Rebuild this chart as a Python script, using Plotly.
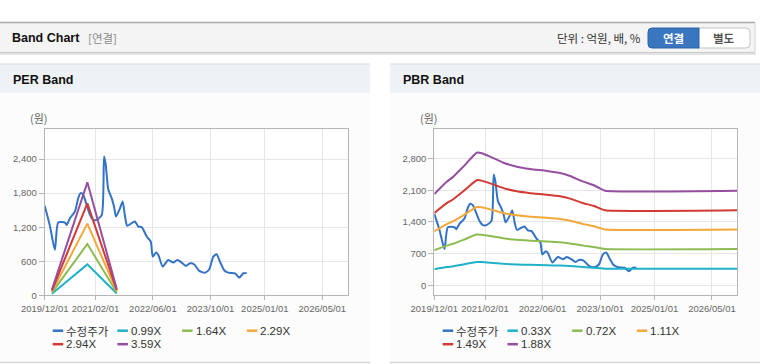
import plotly.graph_objects as go

W, H = 760, 364

# ---------------- data ----------------
price_dates = ["2019-12-01","2020-01-14","2020-02-25","2020-03-24","2020-05-20","2020-06-03","2020-07-01",
               "2020-08-12","2020-09-09","2020-09-29","2020-10-21","2020-11-19","2020-12-17","2021-01-14",
               "2021-02-12","2021-03-27","2021-04-15","2021-04-29","2021-05-21","2021-06-18","2021-07-08",
               "2021-07-25","2021-08-28","2021-09-19","2021-10-09","2021-10-28","2021-12-04","2022-01-01",
               "2022-01-29","2022-02-27","2022-04-10","2022-05-14","2022-05-31","2022-06-28","2022-07-17",
               "2022-08-23","2022-10-09","2022-11-20","2022-12-24","2023-01-30","2023-03-07","2023-04-10",
               "2023-05-14","2023-06-28","2023-08-15","2023-09-20","2023-10-24","2023-11-21","2023-12-19",
               "2024-01-22","2024-02-27","2024-04-24","2024-05-30","2024-07-03","2024-08-01"]
price_vals = [1576,1223,800,1282,1282,1240,1359,1476,1712,1800,1770,1594,1417,1329,1329,1417,2446,2300,1858,
              1712,1564,1387,1535,1652,1387,1223,1270,1300,1211,1200,1035,946,681,752,711,505,623,576,623,576,
              517,564,547,429,399,459,681,723,593,446,399,388,311,388,388]

per_dates = ["2020-01-31", "2020-11-25", "2021-07-31"]
per_names = ["0.99X", "1.64X", "2.29X", "2.94X", "3.59X"]
per_099 = [28, 545, 31]
per_164 = [46, 904, 51]
per_229 = [64, 1262, 71]
per_294 = [82, 1620, 91]
per_359 = [100, 1990, 111]

pbr_dates = ["2019-12-01","2020-03-15","2020-05-09","2020-08-02","2020-11-23","2021-01-04","2021-03-16",
             "2021-07-06","2021-10-27","2022-02-17","2022-07-07","2022-10-28","2023-01-20","2023-05-12",
             "2023-08-04","2023-09-29","2023-11-11","2026-12-01"]
pbr_names = ["0.33X", "0.72X", "1.11X", "1.49X", "1.88X"]
pbr_033 = [354,402,421,460,514,512,499,475,460,451,443,435,424,402,389,376,367,367]
pbr_072 = [772,876,919,1003,1121,1117,1088,1037,1003,984,967,950,924,876,848,820,800,800]
pbr_111 = [1190,1351,1416,1546,1728,1722,1677,1598,1546,1516,1491,1464,1425,1351,1308,1264,1233,1233]
pbr_149 = [1597,1813,1901,2076,2320,2311,2251,2146,2076,2035,2001,1965,1913,1813,1755,1697,1655,1655]
pbr_188 = [2015,2288,2399,2619,2927,2916,2841,2707,2619,2568,2525,2480,2414,2288,2215,2141,2089,2089]

price_name = "수정주가"
x_tickvals = ["2019-12-01","2021-02-01","2022-06-01","2023-10-01","2025-01-01","2026-05-01"]
x_ticktext = ["2019/12/01","2021/02/01","2022/06/01","2023/10/01","2025/01/01","2026/05/01"]
x_range = ["2019-12-01", "2026-12-01"]
per_yticks = [0, 600, 1200, 1800, 2400]
pbr_yticks = [0, 700, 1400, 2100, 2800]

# ---------------- style ----------------
price_color = "#3273c6"
band_colors = ["#1fb1c9", "#8cbb52", "#f2a83a", "#d23a33", "#964f9e"]
KFONT = "Noto Sans CJK KR"
TFONT = "Liberation Sans"

def px(x): return x / W
def py(y): return 1 - y / H

fig = go.Figure()

def add_series(xa, ya, band_dates, bands, names, shape):
    fig.add_trace(go.Scatter(x=price_dates, y=price_vals, mode="lines", name=price_name,
                             line=dict(color=price_color, width=2, shape="spline", smoothing=0.6),
                             xaxis=xa, yaxis=ya, showlegend=False, hoverinfo="skip"))
    for vals, nm, c in zip(bands, names, band_colors):
        fig.add_trace(go.Scatter(x=band_dates, y=vals, mode="lines", name=nm,
                                 line=dict(color=c, width=2, shape=shape, smoothing=0.5),
                                 xaxis=xa, yaxis=ya, showlegend=False, hoverinfo="skip"))

add_series("x", "y", per_dates, [per_099, per_164, per_229, per_294, per_359], per_names, "linear")
add_series("x2", "y2", pbr_dates, [pbr_033, pbr_072, pbr_111, pbr_149, pbr_188], pbr_names, "spline")

plot_top, plot_bot = 128.7, 295.3
axis_common = dict(showline=True, mirror=True, linecolor="#b5b5b5", linewidth=1,
                   showgrid=True, gridcolor="#e6e6e6", gridwidth=1, automargin=False,
                   ticks="outside", ticklen=5, tickcolor="#b5b5b5", zeroline=False,
                   tickfont=dict(family=TFONT, size=9.5, color="#666666"))

xcommon = dict(axis_common, type="date", range=x_range, tickmode="array",
               tickvals=x_tickvals, ticktext=x_ticktext, tickangle=0, ticklen=4)
fig.update_layout(
    xaxis=dict(xcommon, domain=[px(44.7), px(347.7)], anchor="y"),
    yaxis=dict(axis_common, domain=[py(plot_bot), py(plot_top)], anchor="x",
               range=[0, 2935], tickmode="array", tickvals=per_yticks, tickformat=",d"),
    xaxis2=dict(xcommon, domain=[px(434.3), px(737.3)], anchor="y2"),
    yaxis2=dict(axis_common, domain=[py(plot_bot), py(plot_top)], anchor="x2",
                range=[-221, 3458], tickmode="array", tickvals=pbr_yticks, tickformat=",d"),
)

shapes = []
annos = []

def rect(x0, y0, x1, y1, fill, line=None, lw=0):
    shapes.append(dict(type="rect", xref="paper", yref="paper", x0=px(x0), x1=px(x1), y0=py(y1), y1=py(y0),
                       fillcolor=fill, line=dict(color=line or fill, width=lw), layer="below"))

def hline(x0, x1, y, color, w=1):
    shapes.append(dict(type="line", xref="paper", yref="paper", x0=px(x0), x1=px(x1), y0=py(y), y1=py(y),
                       line=dict(color=color, width=w), layer="below"))

def text(x, y, s, size, color, family, anchor="left"):
    annos.append(dict(xref="paper", yref="paper", x=px(x), y=py(y), text=s, showarrow=False,
                      xanchor=anchor, yanchor="middle", borderpad=0,
                      font=dict(size=size, color=color, family=family)))

# main header
rect(0, 22.5, 755, 52.5, "#f4f4f4")
hline(0, 756, 54, "#e4e4e4", 2)
hline(0, 755, 52.5, "#c9c9c9", 1)
hline(0, 755, 22.5, "#a9a9a9", 1.5)
shapes.append(dict(type="line", xref="paper", yref="paper", x0=px(755), x1=px(755), y0=py(52.5), y1=py(22.5),
                   line=dict(color="#d4d4d4", width=1), layer="below"))
text(11, 38, "<b>Band Chart</b>", 12.5, "#111111", TFONT)
text(87, 38.5, "[연결]", 11.5, "#8a8a8a", KFONT)
text(642, 38.5, "단위 : 억원, 배, %", 11.5, "#333333", KFONT, anchor="right")

# buttons
def rpath(x0, y0, x1, y1, rl, rr):
    X0, X1, Y0, Y1 = px(x0), px(x1), py(y0), py(y1)
    rx_l, rx_r = rl / W, rr / W
    ry_l, ry_r = rl / H, rr / H
    return (f"M {X0+rx_l},{Y0} L {X1-rx_r},{Y0} Q {X1},{Y0} {X1},{Y0-ry_r} L {X1},{Y1+ry_r} "
            f"Q {X1},{Y1} {X1-rx_r},{Y1} L {X0+rx_l},{Y1} Q {X0},{Y1} {X0},{Y1+ry_l} L {X0},{Y0-ry_l} "
            f"Q {X0},{Y0} {X0+rx_l},{Y0} Z")

shapes.append(dict(type="path", xref="paper", yref="paper", path=rpath(698, 28, 750, 48, 0, 4),
                   fillcolor="#ffffff", line=dict(color="#c4c4c4", width=1), layer="below"))
shapes.append(dict(type="path", xref="paper", yref="paper", path=rpath(648, 28, 699, 48, 4, 0),
                   fillcolor="#3a75bf", line=dict(color="#2d62a6", width=1), layer="below"))
text(673.5, 38.5, "<b>연결</b>", 11.5, "#ffffff", KFONT, anchor="center")
text(724, 38.5, "<b>별도</b>", 11.5, "#555555", KFONT, anchor="center")

# panels
for x0, x1, title in [(0, 370, "PER Band"), (390, 760, "PBR Band")]:
    rect(x0, 64, x1, 362, "#fcfcfc")
    rect(x0, 64.5, x1, 93, "#eef2f7")
    hline(x0, x1, 64, "#d6d6d6", 1)
    hline(x0, x1, 362.5, "#d6d6d6", 1.5)
    text(x0 + 11.5, 80, f"<b>{title}</b>", 12.5, "#111111", TFONT)
    text(x0 + 29, 118.5, "(원)", 11, "#666666", KFONT)

# plot backgrounds
rect(44.7, plot_top, 347.7, plot_bot, "#ffffff")
rect(434.3, plot_top, 737.3, plot_bot, "#ffffff")

# legends
def legend(base_x, names):
    labels = [price_name] + names
    colors = [price_color] + band_colors
    for i, (lab, c) in enumerate(zip(labels, colors)):
        row, col = divmod(i, 4)
        sx = base_x + col * 64.7
        y = 330.7 + row * 13.5
        shapes.append(dict(type="line", xref="paper", yref="paper", x0=px(sx), x1=px(sx + 10.5),
                           y0=py(y), y1=py(y), line=dict(color=c, width=2.5)))
        text(sx + 12.5, y, lab, 11.5, "#333333", KFONT if i == 0 else TFONT)

legend(52.7, per_names)
legend(442.7, pbr_names)

fig.update_layout(width=W, height=H, margin=dict(l=0, r=0, t=0, b=0, autoexpand=False),
                  paper_bgcolor="#ffffff", plot_bgcolor="rgba(0,0,0,0)",
                  shapes=shapes, annotations=annos, showlegend=False)

fig.write_html("out.html", config={"displayModeBar": False},
               post_script="document.body.style.margin='0px';document.body.style.overflow='hidden';")
